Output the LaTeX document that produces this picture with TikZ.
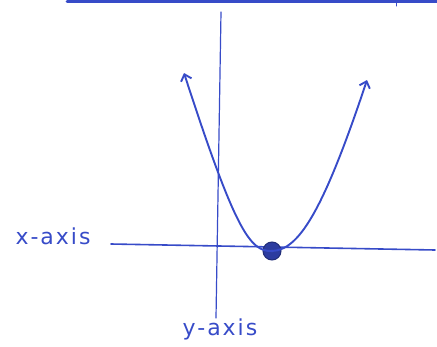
\documentclass[tikz,border=0pt]{standalone}
\usepackage{fontspec}
\setmainfont{DejaVu Sans}[LetterSpace=9]
\usetikzlibrary{arrows.meta}
\definecolor{pen}{RGB}{55,75,200}
\begin{document}
\begin{tikzpicture}[x=1pt,y=-1pt,
  ink/.style={draw=pen,line width=1.9pt,line cap=round},
  lbl/.style={text=pen,font=\fontsize{22}{22}\selectfont,inner sep=0pt}]
\useasboundingbox (0,0) rectangle (437,346);
% top line
\coordinate (tl) at (67,1.5);
\coordinate (tr) at (437,1.5);
\draw[ink,line width=2.6pt] (tl) -- (tr);
\coordinate (tk1) at (396,0);
\coordinate (tk2) at (396,6);
\draw[ink,line width=1pt] (tk1) -- (tk2);
% axes
\coordinate (ytop) at (221,12);
\coordinate (ybot) at (216,318);
\draw[ink,line width=1.2pt] (ytop) -- (ybot);
\coordinate (xl) at (111,244);
\coordinate (xr) at (435,250);
\draw[ink,line width=1.6pt] (xl) -- (xr);
% parabola
\coordinate (ltip) at (184,73);
\coordinate (rtip) at (367,80);
\node[circle,fill=pen!80!black,draw=pen!60!black,line width=1pt,minimum size=18pt,inner sep=0pt] (dot) at (272,251) {};
\fill[white] (dot.center) circle (1.2pt);
\draw[ink,-{Straight Barb[length=6pt,width=11pt]}] (dot.center) .. controls (250,252) and (235,230) .. (ltip);
\draw[ink,-{Straight Barb[length=6pt,width=11pt]}] (dot.center) .. controls (298,250) and (322,215) .. (rtip);
% labels
\node[lbl,anchor=center] (xlab) at (53,236) {x-axis};
\node[lbl,anchor=center] (ylab) at (220,329) {y-axis};
\end{tikzpicture}
\end{document}
